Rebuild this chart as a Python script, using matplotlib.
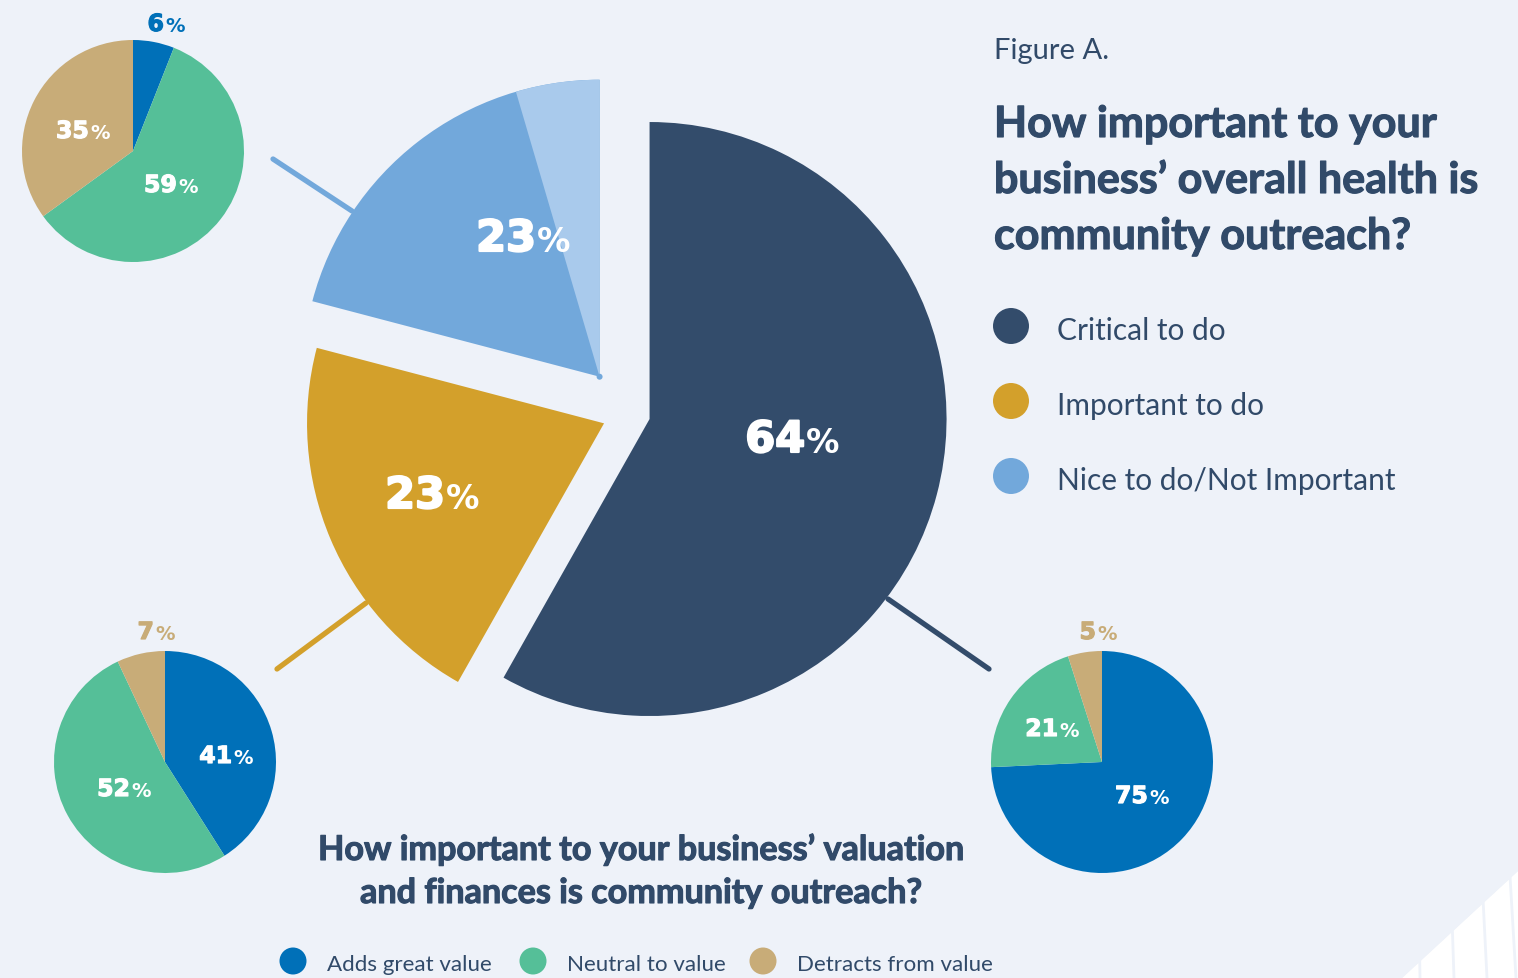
import numpy as np
import matplotlib
matplotlib.use("Agg")
import matplotlib.pyplot as plt
import matplotlib.patheffects as pe
from matplotlib.patches import Wedge, Circle, Polygon

W, H = 1518, 979

# overall health: big pie
health_labels = ["Critical to do", "Important to do", "Nice to do/Not Important"]
health_vals = [64, 23, 23]
nice_split = [18, 5]          # nice to do / not important share of the last group

# valuation & finances: one small pie per health group
value_labels = ["Adds great value", "Neutral to value", "Detracts from value"]
value_critical = [75, 21, 5]
value_important = [41, 52, 7]
value_nice = [6, 59, 35]

BG = "#eef2f9"
TXT = "#314a69"
HEALTH_COLORS = ["#334c6b", "#d3a02b", "#72a8db"]
LIGHT_BLUE = "#a9caec"
VALUE_COLORS = ["#0070b8", "#55bf98", "#c8ac78"]
FONT = "Lato"
NUM_FONT = "DejaVu Sans"

fig = plt.figure(figsize=(W / 100, H / 100), dpi=100, facecolor=BG)
ax = fig.add_axes([0, 0, 1, 1])
ax.set_facecolor(BG)


def Y(y):
    return H - y


def pct(x, y, num, size, color, psize, gap=1):
    thick = [pe.withStroke(linewidth=size * 0.05, foreground=color)]
    ax.text(x, Y(y), num, ha="right", va="baseline", fontsize=size, fontweight="bold",
            color=color, family=NUM_FONT, zorder=5, path_effects=thick)
    ax.text(x + gap, Y(y), "%", ha="left", va="baseline", fontsize=psize,
            fontweight="bold", color=color, family=NUM_FONT, zorder=5)


# connector lines from the big slices to their small pies
for (x0, y0, x1, y1), c in [((273, 160, 352, 212), HEALTH_COLORS[2]),
                            ((277, 670, 366, 604), HEALTH_COLORS[1]),
                            ((888, 600, 989, 670), HEALTH_COLORS[0])]:
    ax.plot([x0, x1], [Y(y0), Y(y1)], color=c, lw=3.8, solid_capstyle="round", zorder=1)

# big pie, slices pulled apart (explode is in pixels here)
R = 297
wedges, _ = ax.pie(health_vals, colors=HEALTH_COLORS, startangle=90, counterclock=False,
                   explode=[22.5, 25.8, 46.2], center=(627.8, Y(414.3)), radius=R,
                   frame=True, wedgeprops=dict(linewidth=0, zorder=2))
sweep = 360 * nice_split[1] / sum(health_vals)
ax.add_patch(Wedge(wedges[2].center, R, 90, 90 + sweep, color=LIGHT_BLUE, lw=0, zorder=3))
ax.add_patch(Circle(wedges[2].center, 3, color=HEALTH_COLORS[2], lw=0, zorder=3))

pct(805, 453, "64", 31, "white", 24)
pct(536, 252, "23", 31, "white", 24)
pct(445, 509, "23", 31, "white", 24)

# small pies
for vals, (cx, cy) in [(value_nice, (133, 152)), (value_important, (165, 763)),
                       (value_critical, (1102, 763))]:
    ax.pie(vals, colors=VALUE_COLORS, startangle=90, counterclock=False,
           center=(cx, Y(cy)), radius=111, frame=True, wedgeprops=dict(linewidth=0, zorder=2))

SN, SP = 17, 14
pct(164, 32, str(value_nice[0]), SN, VALUE_COLORS[0], SP)
pct(177, 193, str(value_nice[1]), SN, "white", SP)
pct(89, 139, str(value_nice[2]), SN, "white", SP)
pct(232, 764, str(value_important[0]), SN, "white", SP)
pct(130, 797, str(value_important[1]), SN, "white", SP)
pct(154, 640, str(value_important[2]), SN, VALUE_COLORS[2], SP)
pct(1148, 804, str(value_critical[0]), SN, "white", SP)
pct(1058, 737, str(value_critical[1]), SN, "white", SP)
pct(1096, 640, str(value_critical[2]), SN, VALUE_COLORS[2], SP)

# titles (a thin stroke makes Lato Bold a touch heavier)
heavy = [pe.withStroke(linewidth=0.8, foreground=TXT)]
ax.text(994, Y(59), "Figure A.", fontsize=21, color=TXT, family=FONT, va="baseline")
for line, yb in zip(["How important to your", "business\u2019 overall health is",
                     "community outreach?"], [138, 194, 250]):
    ax.text(994, Y(yb), line, fontsize=31, fontweight="bold", color=TXT, family=FONT,
            va="baseline", path_effects=heavy)
for line, yb in zip(["How important to your business\u2019 valuation",
                     "and finances is community outreach?"], [861, 904]):
    ax.text(641, Y(yb), line, fontsize=24.6, fontweight="bold", color=TXT, family=FONT,
            va="baseline", ha="center", path_effects=heavy)

# legend for the big pie
for lab, c, yc in zip(health_labels, HEALTH_COLORS, [327, 402, 477]):
    ax.add_patch(Circle((1011, Y(yc)), 18, color=c, lw=0))
    ax.text(1057, Y(yc + 13), lab, fontsize=21.5, color=TXT, family=FONT, va="baseline")

# legend for the small pies
for lab, c, xc in zip(value_labels, VALUE_COLORS, [293, 533, 763]):
    ax.add_patch(Circle((xc, Y(962)), 13.5, color=c, lw=0))
    ax.text(xc + 34, Y(971), lab, fontsize=16.1, color=TXT, family=FONT, va="baseline")

# corner decoration
ax.add_patch(Polygon([(1518, Y(872)), (1518, Y(979)), (1402, Y(979))], closed=True,
                     color="white", lw=0, zorder=0))
for xb, xt in [(1420, 1418), (1454, 1450), (1487, 1481), (1516, 1509)]:
    ax.plot([xb, xt], [Y(979), Y(860)], color=BG, lw=2, zorder=0.5)
ax.add_patch(Polygon([(1518, Y(872)), (1402, Y(979)), (1300, Y(979)), (1300, Y(800)),
                      (1518, Y(800))], closed=True, color=BG, lw=0, zorder=0.6))

ax.set_xlim(0, W)
ax.set_ylim(0, H)
ax.set_aspect("equal")
ax.axis("off")
fig.savefig("out.png", dpi=100, facecolor=BG)
